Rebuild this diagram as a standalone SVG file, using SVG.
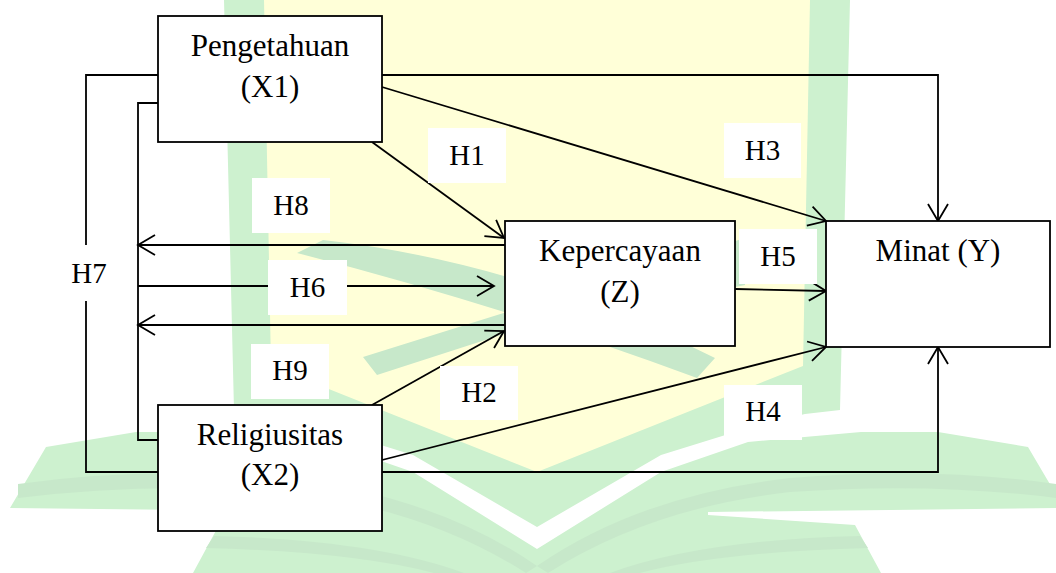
<svg xmlns="http://www.w3.org/2000/svg" width="1056" height="573" viewBox="0 0 1056 573">
  <style>
    .node rect { fill: #ffffff; stroke: #000000; stroke-width: 1.8; }
    .lbl rect { fill: #ffffff; stroke: none; }
    .conn { fill: none; stroke: #000000; stroke-width: 1.8; }
    .wm-g { fill: #cdf1cf; }
    .wm-d { fill: #c7e8ca; }
    .wm-y { fill: #ffffd8; }
  </style>
  <defs>
    <marker id="ah" markerUnits="userSpaceOnUse" markerWidth="26" markerHeight="26" viewBox="-22 -13 26 26" refX="0" refY="0" orient="auto">
      <path d="M-17,-10 L0,0 L-17,10" fill="none" stroke="#000000" stroke-width="1.8"/>
    </marker>
    <g id="wmHalf">
      <polygon class="wm-g" points="537,0 850,0 840,410 805,414 748,428 661,455 537,527"/>
      <polygon class="wm-y" points="537,0 810,0 803,366 537,472"/>
      <polygon class="wm-g" points="537,549 661,472 748,442 861,432 938,432 1028,447 1064,508 708,512 708,515 855,525 881,573 537,573"/>
      <path class="wm-d" d="M537,566 Q640,495 790,478 Q930,466 1056,484 L1056,498 Q930,482 790,492 Q650,508 548,573 Z"/>
      <path class="wm-d" d="M610,573 Q700,540 860,536 L868,548 Q720,552 640,573 Z"/>
    </g>
  </defs>
  <rect x="0" y="0" width="1056" height="573" fill="#ffffff"/>
  <g id="watermark">
    <use href="#wmHalf"/>
    <use href="#wmHalf" transform="matrix(-1,0,0,1,1074,0)"/>
    <path class="wm-d" d="M297,253 L323,240 Q520,262 715,358 L697,378 Q500,305 297,253 Z"/>
    <path class="wm-d" d="M363,357 L510,311 L745,238 L745,285 L510,332 L377,375 Z"/>
  </g>
  <g id="connectors">
    <path class="conn" d="M382,75 H938 V221" marker-end="url(#ah)"/>
    <path class="conn" d="M382,87 L826,221" marker-end="url(#ah)"/>
    <path class="conn" d="M372,142 L504,238" marker-end="url(#ah)"/>
    <path class="conn" d="M505,245 H138" marker-end="url(#ah)"/>
    <path class="conn" d="M138,286 H494" marker-end="url(#ah)"/>
    <path class="conn" d="M505,325 H138" marker-end="url(#ah)"/>
    <path class="conn" d="M372,405 L504,331" marker-end="url(#ah)"/>
    <path class="conn" d="M735,289 L826,291" marker-end="url(#ah)"/>
    <path class="conn" d="M382,460 L826,347" marker-end="url(#ah)"/>
    <path class="conn" d="M382,472 H938 V347" marker-end="url(#ah)"/>
    <path class="conn" d="M158,75 H86 V245"/>
    <path class="conn" d="M86,301 V472 H158"/>
    <path class="conn" d="M158,103 H138 V440 H158"/>
  </g>
  <g id="labels">
    <g class="lbl" id="lbl-H1"><rect x="428" y="128" width="78" height="55"/><text x="467" y="165" font-family="'Liberation Serif', serif" font-size="29" text-anchor="middle">H1</text></g>
    <g class="lbl" id="lbl-H8"><rect x="252" y="178" width="78" height="55"/><text x="291" y="215" font-family="'Liberation Serif', serif" font-size="29" text-anchor="middle">H8</text></g>
    <g class="lbl" id="lbl-H6"><rect x="268" y="260" width="79" height="55"/><text x="307.5" y="297" font-family="'Liberation Serif', serif" font-size="29" text-anchor="middle">H6</text></g>
    <g class="lbl" id="lbl-H9"><rect x="251" y="344" width="78" height="55"/><text x="290" y="380" font-family="'Liberation Serif', serif" font-size="29" text-anchor="middle">H9</text></g>
    <g class="lbl" id="lbl-H2"><rect x="440" y="366" width="78" height="54"/><text x="479" y="402" font-family="'Liberation Serif', serif" font-size="29" text-anchor="middle">H2</text></g>
    <g class="lbl" id="lbl-H3"><rect x="724" y="123" width="77" height="55"/><text x="762.5" y="160" font-family="'Liberation Serif', serif" font-size="29" text-anchor="middle">H3</text></g>
    <g class="lbl" id="lbl-H5"><rect x="739" y="229" width="78" height="55"/><text x="778" y="266" font-family="'Liberation Serif', serif" font-size="29" text-anchor="middle">H5</text></g>
    <g class="lbl" id="lbl-H4"><rect x="724" y="385" width="78" height="55"/><text x="763" y="421" font-family="'Liberation Serif', serif" font-size="29" text-anchor="middle">H4</text></g>
    <g class="lbl" id="lbl-H7"><text x="89" y="283" font-family="'Liberation Serif', serif" font-size="29" text-anchor="middle">H7</text></g>
  </g>
  <g id="node-X1" class="node">
    <rect x="158" y="16" width="224" height="126"/>
    <text x="270" y="56" font-family="'Liberation Serif', serif" font-size="31" text-anchor="middle">Pengetahuan</text>
    <text x="270" y="97" font-family="'Liberation Serif', serif" font-size="31" text-anchor="middle">(X1)</text>
  </g>
  <g id="node-Z" class="node">
    <rect x="505" y="221" width="230" height="125"/>
    <text x="620" y="261" font-family="'Liberation Serif', serif" font-size="31" text-anchor="middle">Kepercayaan</text>
    <text x="620" y="302" font-family="'Liberation Serif', serif" font-size="31" text-anchor="middle">(Z)</text>
  </g>
  <g id="node-Y" class="node">
    <rect x="826" y="221" width="224" height="126"/>
    <text x="938" y="261" font-family="'Liberation Serif', serif" font-size="31" text-anchor="middle">Minat (Y)</text>
  </g>
  <g id="node-X2" class="node">
    <rect x="158" y="405" width="224" height="126"/>
    <text x="270" y="445" font-family="'Liberation Serif', serif" font-size="31" text-anchor="middle">Religiusitas</text>
    <text x="270" y="485" font-family="'Liberation Serif', serif" font-size="31" text-anchor="middle">(X2)</text>
  </g>
</svg>
